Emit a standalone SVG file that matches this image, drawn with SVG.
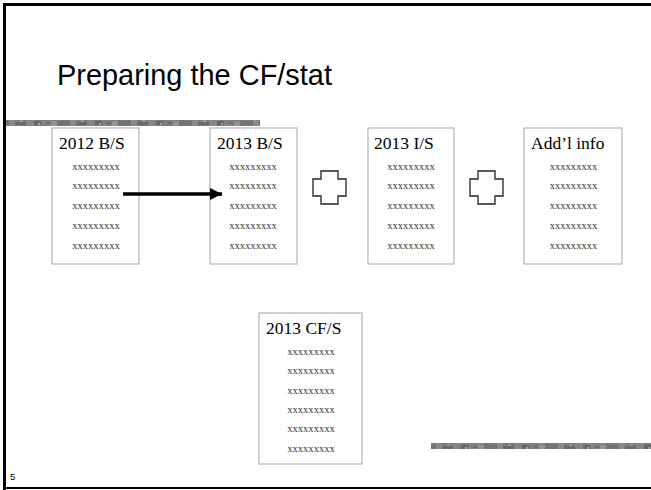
<svg xmlns="http://www.w3.org/2000/svg" width="651" height="490" viewBox="0 0 651 490">
<style>
.box{fill:#fff;stroke:#b4b4b4;stroke-width:1.2}
.hd{font-family:"Liberation Serif","Times New Roman",serif;font-size:17.5px;fill:#000}
.xx{font-family:"Liberation Serif","Times New Roman",serif;font-size:10.6px;fill:#333;text-anchor:middle}
.plus{fill:#fff;stroke:#222;stroke-width:1.3}
.frame{fill:#000}
</style>
<defs>
<pattern id="noise" x="0" y="0" width="61" height="6" patternUnits="userSpaceOnUse">
<rect width="61" height="6" fill="#7c7c7c"/>
<rect x="0" y="1" width="9" height="4" fill="#727272"/>
<rect x="9" y="0" width="6" height="6" fill="#8a8a8a"/>
<rect x="15" y="2" width="11" height="3" fill="#6a6a6a"/>
<rect x="20" y="0" width="3" height="2" fill="#9a9a9a"/>
<rect x="26" y="0" width="8" height="6" fill="#868686"/>
<rect x="34" y="1" width="7" height="4" fill="#666"/>
<rect x="38" y="3" width="2" height="2" fill="#a5a5a5"/>
<rect x="41" y="0" width="10" height="6" fill="#808080"/>
<rect x="46" y="2" width="4" height="2" fill="#6d6d6d"/>
<rect x="51" y="1" width="6" height="5" fill="#929292"/>
<rect x="57" y="0" width="4" height="6" fill="#747474"/>
</pattern>
<marker id="ah" markerWidth="12" markerHeight="12" viewBox="0 0 12 12" refX="12" refY="6" markerUnits="userSpaceOnUse" orient="auto">
<path d="M0,0 L12,6 L0,12 Z" fill="#000"/>
</marker>
</defs>
<rect width="651" height="490" fill="#fff"/>
<!-- slide frame -->
<rect class="frame" x="3" y="3" width="648" height="3"/>
<rect class="frame" x="3" y="3" width="3" height="487"/>
<rect class="frame" x="3" y="487" width="648" height="2"/>
<!-- texture bars -->
<rect x="6" y="120" width="254" height="6" fill="url(#noise)"/>
<rect x="431" y="443" width="220" height="6" fill="url(#noise)"/>
<text x="57" y="84.5" font-family="'Liberation Sans',Arial,sans-serif" font-size="29.5" textLength="275" lengthAdjust="spacingAndGlyphs" fill="#000">Preparing the CF/stat</text>
<text x="10" y="480" font-family="'Liberation Sans',Arial,sans-serif" font-size="9.5" fill="#000">5</text>
<g id="bs2012">
<rect class="box" x="52" y="128" width="87" height="136"/>
<text class="hd" x="59" y="149">2012 B/S</text>
<text class="xx" x="96" y="169.5">xxxxxxxxx</text>
<text class="xx" x="96" y="189.3">xxxxxxxxx</text>
<text class="xx" x="96" y="209.1">xxxxxxxxx</text>
<text class="xx" x="96" y="228.9">xxxxxxxxx</text>
<text class="xx" x="96" y="248.7">xxxxxxxxx</text>
</g>
<g id="bs2013">
<rect class="box" x="210" y="128" width="87" height="136"/>
<text class="hd" x="217" y="149">2013 B/S</text>
<text class="xx" x="253" y="169.5">xxxxxxxxx</text>
<text class="xx" x="253" y="189.3">xxxxxxxxx</text>
<text class="xx" x="253" y="209.1">xxxxxxxxx</text>
<text class="xx" x="253" y="228.9">xxxxxxxxx</text>
<text class="xx" x="253" y="248.7">xxxxxxxxx</text>
</g>
<g id="plus1">
<path class="plus" d="M321,171 H338 V179 H346 V196 H338 V204 H321 V196 H313 V179 H321 Z"/>
</g>
<g id="is2013">
<rect class="box" x="368" y="128" width="86" height="136"/>
<text class="hd" x="374" y="149">2013 I/S</text>
<text class="xx" x="411" y="169.5">xxxxxxxxx</text>
<text class="xx" x="411" y="189.3">xxxxxxxxx</text>
<text class="xx" x="411" y="209.1">xxxxxxxxx</text>
<text class="xx" x="411" y="228.9">xxxxxxxxx</text>
<text class="xx" x="411" y="248.7">xxxxxxxxx</text>
</g>
<g id="plus2">
<path class="plus" d="M478,171 H495 V179 H503 V196 H495 V204 H478 V196 H470 V179 H478 Z"/>
</g>
<g id="addlinfo">
<rect class="box" x="524" y="128" width="98" height="136"/>
<text class="hd" x="531" y="149">Add’l info</text>
<text class="xx" x="573.5" y="169.5">xxxxxxxxx</text>
<text class="xx" x="573.5" y="189.3">xxxxxxxxx</text>
<text class="xx" x="573.5" y="209.1">xxxxxxxxx</text>
<text class="xx" x="573.5" y="228.9">xxxxxxxxx</text>
<text class="xx" x="573.5" y="248.7">xxxxxxxxx</text>
</g>
<g id="cfs2013">
<rect class="box" x="259" y="313" width="103" height="151"/>
<text class="hd" x="266" y="334">2013 CF/S</text>
<text class="xx" x="311" y="355">xxxxxxxxx</text>
<text class="xx" x="311" y="374.3">xxxxxxxxx</text>
<text class="xx" x="311" y="393.6">xxxxxxxxx</text>
<text class="xx" x="311" y="412.9">xxxxxxxxx</text>
<text class="xx" x="311" y="432.2">xxxxxxxxx</text>
<text class="xx" x="311" y="451.5">xxxxxxxxx</text>
</g>
<g id="connectors">
<line x1="123" y1="194" x2="222" y2="194" stroke="#000" stroke-width="3.5" marker-end="url(#ah)"/>
</g>
</svg>
